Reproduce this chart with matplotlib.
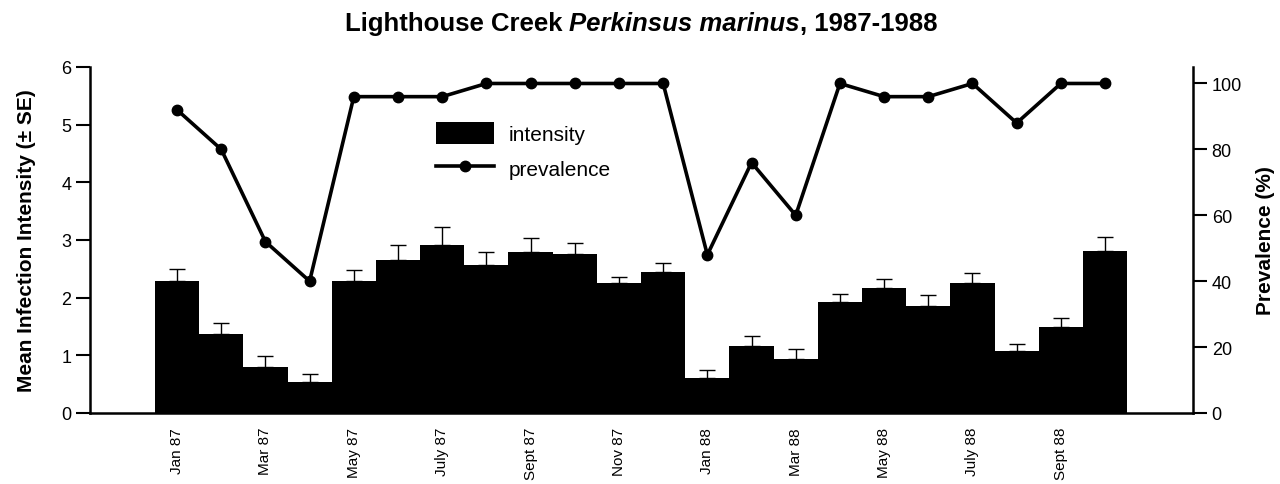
import numpy as np
import matplotlib
matplotlib.use('Agg')
import matplotlib.pyplot as plt
from matplotlib.offsetbox import TextArea, HPacker, AnchoredOffsetbox

plt.rcParams['font.family'] = ['Liberation Sans', 'DejaVu Sans']

# monthly samples, Jan 87 .. Oct 88
months = ['Jan 87', 'Feb 87', 'Mar 87', 'Apr 87', 'May 87', 'June 87', 'July 87', 'Aug 87',
          'Sept 87', 'Oct 87', 'Nov 87', 'Dec 87', 'Jan 88', 'Feb 88', 'Mar 88', 'Apr 88',
          'May 88', 'June 88', 'July 88', 'Aug 88', 'Sept 88', 'Oct 88']
intensity = [2.29, 1.37, 0.80, 0.53, 2.29, 2.65, 2.92, 2.57, 2.80, 2.76, 2.25, 2.45,
             0.61, 1.17, 0.93, 1.93, 2.16, 1.85, 2.25, 1.08, 1.49, 2.81]
intensity_se = [0.20, 0.19, 0.18, 0.15, 0.19, 0.26, 0.30, 0.22, 0.23, 0.19, 0.10, 0.15,
                0.13, 0.16, 0.18, 0.14, 0.17, 0.19, 0.18, 0.11, 0.15, 0.24]
prevalence = [92, 80, 52, 40, 96, 96, 96, 100, 100, 100, 100, 100,
              48, 76, 60, 100, 96, 96, 100, 88, 100, 100]

x = np.arange(len(months))

fig = plt.figure(figsize=(12.8, 4.85), dpi=100)
ax = fig.add_axes([90/1280, 1-414/485, (1193-90)/1280, (414-68)/485])

ax.bar(x, intensity, width=1.0, color='black', linewidth=0, label='intensity',
       yerr=[np.zeros(len(x)), intensity_se], capsize=6,
       error_kw=dict(ecolor='black', elinewidth=1, capthick=1))
ax.set_xlim(-1.97, 22.99)
ax.set_ylim(0, 6)
ax.set_yticks(range(0, 7))
ax.set_ylabel('Mean Infection Intensity (± SE)', fontsize=15, fontweight='bold', labelpad=18)
ax.set_xticks(x[::2])
ax.set_xticklabels(months[::2], rotation=90, fontsize=11)
ax.tick_params(axis='x', length=0, pad=10)
ax.tick_params(axis='y', length=10, width=1.5, labelsize=13, direction='out')
for s in ['top', 'right']:
    ax.spines[s].set_visible(False)
ax.spines['left'].set_linewidth(1.8)
ax.spines['bottom'].set_linewidth(1.8)

ax2 = ax.twinx()
ax2.plot(x, prevalence, '-o', color='black', lw=2.6, markersize=7.5, label='prevalence')
ax2.set_ylim(0, 105)
ax2.set_yticks(range(0, 101, 20))
ax2.set_ylabel('Prevalence (%)', fontsize=15, fontweight='bold', labelpad=10)
ax2.tick_params(axis='y', length=10, width=1.5, labelsize=13, direction='out')
for s in ['top', 'left', 'bottom']:
    ax2.spines[s].set_visible(False)
ax2.spines['right'].set_linewidth(1.8)

h1, l1 = ax.get_legend_handles_labels()
h2, l2 = ax2.get_legend_handles_labels()
fig.legend(h1 + h2, l1 + l2, loc='upper left', bbox_to_anchor=(417/1280, 1-104/485),
           frameon=False, fontsize=15, handlelength=2.8, handleheight=1.3,
           handletextpad=0.7, labelspacing=0.6)

# title with italic species name
parts = [TextArea('Lighthouse Creek ', textprops=dict(fontsize=18.5, fontweight='bold')),
         TextArea('Perkinsus marinus', textprops=dict(fontsize=18.5, fontweight='bold', style='italic')),
         TextArea(', 1987-1988', textprops=dict(fontsize=18.5, fontweight='bold'))]
title = AnchoredOffsetbox(loc='center', child=HPacker(children=parts, pad=0, sep=0),
                          bbox_to_anchor=(641/1280, 1-24/485), bbox_transform=fig.transFigure,
                          frameon=False, pad=0, borderpad=0)
fig.add_artist(title)

fig.savefig('out.png', dpi=100)
